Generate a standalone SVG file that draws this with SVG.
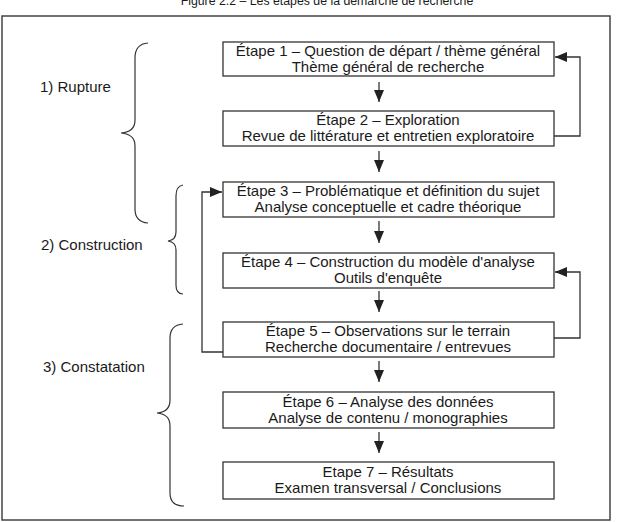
<svg xmlns="http://www.w3.org/2000/svg" width="618" height="522" viewBox="0 0 618 522">
<defs>
<style>
text{font-family:"Liberation Sans",Arial,sans-serif;font-size:15px;fill:#1a1a1a}
.t{text-anchor:middle}
.box{fill:#fff;stroke:#333;stroke-width:1.3}
.ln{fill:none;stroke:#333;stroke-width:1.3}
.br{fill:none;stroke:#333;stroke-width:1.2}
</style>
<marker id="ah" viewBox="0 0 12 10" refX="12" refY="5" markerWidth="12" markerHeight="10" markerUnits="userSpaceOnUse" orient="auto">
<path d="M0,0 L12,5 L0,10 Z" fill="#222"/>
</marker>
</defs>
<rect width="618" height="522" fill="#fff"/>
<text x="327" y="5" class="t" style="font-size:12.3px">Figure 2.2 – Les étapes de la démarche de recherche</text>
<rect x="2" y="16" width="608" height="504" fill="none" stroke="#444" stroke-width="1.5"/>

<g id="labels">
<text x="40" y="92">1) Rupture</text>
<text x="41" y="250">2) Construction</text>
<text x="43" y="372">3) Constatation</text>
</g>

<g id="braces">
<path class="br" d="M148,43 Q135,44 135,58 L135,120 Q135,132 121,133 Q135,134 135,146 L135,209 Q135,222 148,223"/>
<path class="br" d="M183,185 Q176,186 176,196 L176,232 Q176,240 168,241 Q176,242 176,250 L176,285 Q176,294 183,294"/>
<path class="br" d="M183,324 Q170,325 170,338 L170,400 Q170,412 157,413 Q170,414 170,426 L170,493 Q170,506 184,506"/>
</g>

<g id="step1"><rect class="box" x="223" y="42" width="331" height="34"/>
<text class="t" x="388" y="56">Étape 1 – Question de départ / thème général</text>
<text class="t" x="388" y="72">Thème général de recherche</text></g>
<g id="step2"><rect class="box" x="223" y="111" width="331" height="35"/>
<text class="t" x="388" y="125">Étape 2 – Exploration</text>
<text class="t" x="388" y="141">Revue de littérature et entretien exploratoire</text></g>
<g id="step3"><rect class="box" x="223" y="182" width="331" height="35"/>
<text class="t" x="388" y="196">Étape 3 – Problématique et définition du sujet</text>
<text class="t" x="388" y="212">Analyse conceptuelle et cadre théorique</text></g>
<g id="step4"><rect class="box" x="223" y="253" width="331" height="35"/>
<text class="t" x="388" y="267">Étape 4 – Construction du modèle d'analyse</text>
<text class="t" x="388" y="283">Outils d'enquête</text></g>
<g id="step5"><rect class="box" x="223" y="322" width="331" height="35"/>
<text class="t" x="388" y="336">Étape 5 – Observations sur le terrain</text>
<text class="t" x="388" y="352">Recherche documentaire / entrevues</text></g>
<g id="step6"><rect class="box" x="223" y="392" width="331" height="36"/>
<text class="t" x="388" y="407">Étape 6 – Analyse des données</text>
<text class="t" x="388" y="423">Analyse de contenu / monographies</text></g>
<g id="step7"><rect class="box" x="223" y="462" width="331" height="37"/>
<text class="t" x="388" y="477">Etape 7 – Résultats</text>
<text class="t" x="388" y="493">Examen transversal / Conclusions</text></g>

<g id="connectors">
<line class="ln" x1="379" y1="82" x2="379" y2="102" marker-end="url(#ah)"/>
<line class="ln" x1="379" y1="151" x2="379" y2="172" marker-end="url(#ah)"/>
<line class="ln" x1="379" y1="221" x2="379" y2="243" marker-end="url(#ah)"/>
<line class="ln" x1="379" y1="291" x2="379" y2="312" marker-end="url(#ah)"/>
<line class="ln" x1="379" y1="361" x2="379" y2="382" marker-end="url(#ah)"/>
<line class="ln" x1="379" y1="432" x2="379" y2="453" marker-end="url(#ah)"/>
<polyline class="ln" points="554,136 580,136 580,57 555,57" marker-end="url(#ah)"/>
<polyline class="ln" points="554,338 580,338 580,272 555,272" marker-end="url(#ah)"/>
<polyline class="ln" points="223,352 202,352 202,192 222,192" marker-end="url(#ah)"/>
</g>
</svg>
